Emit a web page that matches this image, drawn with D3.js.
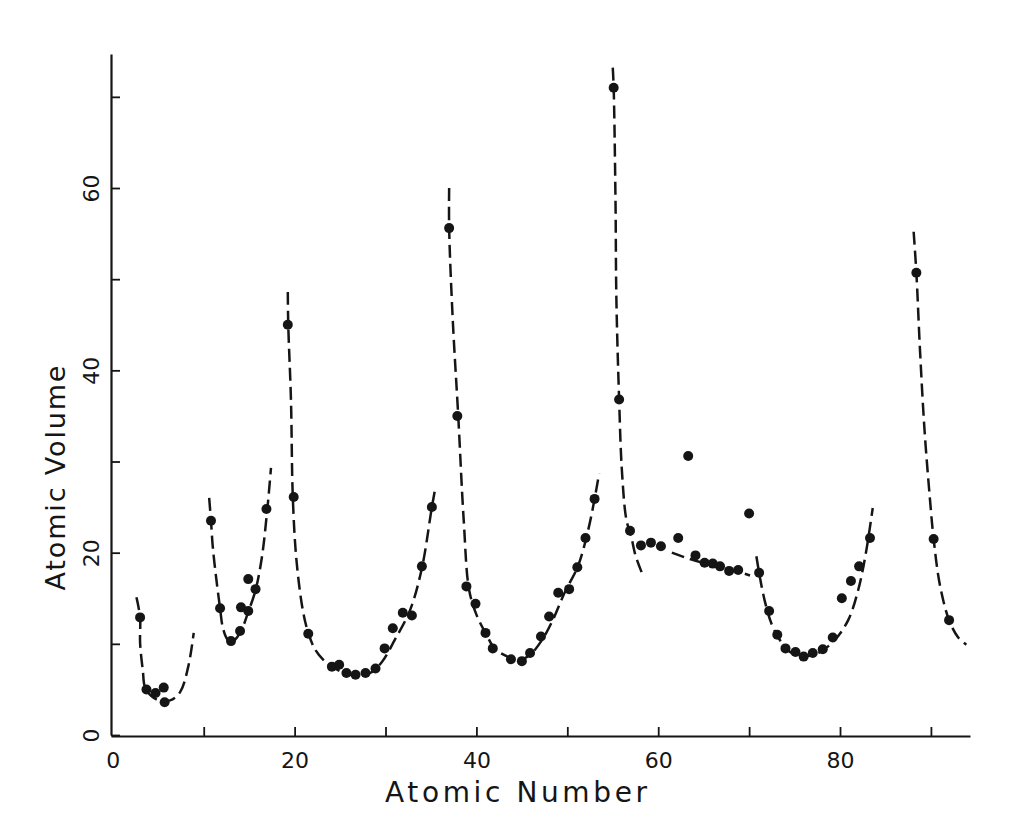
<!DOCTYPE html>
<html>
<head>
<meta charset="utf-8">
<script src="https://cdn.jsdelivr.net/npm/d3@7"></script>
<style>
  html, body { margin: 0; padding: 0; background: #fff; }
  svg { display: block; }
  text { font-family: "DejaVu Sans", sans-serif; fill: #151515; }
</style>
</head>
<body>
<svg id="chart" width="1024" height="830"></svg>
<script>
// ---- tick labels ----
const xTickValues = [0, 10, 20, 30, 40, 50, 60, 70, 80, 90];
const xTickLabels = [0, 20, 40, 60, 80];
const yTickValues = [0, 10, 20, 30, 40, 50, 60, 70];
const yTickLabels = [0, 20, 40, 60];
const xTitle = "Atomic Number";
const yTitle = "Atomic Volume";

// ---- plotted elements: atomic number (as placed), atomic volume ----
const atomicNumber = [
  3.0, 3.7, 4.7, 5.6, 5.7,
  10.8, 11.8, 13.0, 14.0, 14.1, 14.9, 14.9, 15.7, 16.9,
  19.25, 19.9, 21.5, 24.1, 24.9, 25.7, 26.7, 27.8, 28.9, 29.9, 30.8, 31.9, 32.9, 34.0, 35.1,
  37.0, 37.9, 38.9, 39.9, 41.0, 41.8, 43.8, 45.0, 45.9, 47.1, 48.0, 49.0, 50.2, 51.1, 52.0, 53.0,
  55.1, 55.7, 56.9, 58.1, 59.2, 60.3, 62.2, 63.3, 64.1, 65.1, 66.0, 66.8, 67.8, 68.8, 70.0, 71.1,
  72.2, 73.1, 74.0, 75.1, 76.0, 77.0, 78.1, 79.2, 80.2, 81.2, 82.1, 83.3,
  88.4, 90.3, 92.0
];
const atomicVolume = [
  12.9, 5.0, 4.6, 5.2, 3.6,
  23.5, 13.9, 10.3, 11.4, 14.0, 13.6, 17.1, 16.0, 24.8,
  45.0, 26.1, 11.1, 7.5, 7.7, 6.8, 6.6, 6.8, 7.3, 9.5, 11.7, 13.4, 13.1, 18.5, 25.0,
  55.6, 35.0, 16.3, 14.4, 11.2, 9.5, 8.3, 8.1, 9.0, 10.8, 13.0, 15.6, 16.0, 18.4, 21.6, 25.9,
  71.0, 36.8, 22.4, 20.8, 21.1, 20.7, 21.6, 30.6, 19.7, 18.9, 18.8, 18.5, 18.0, 18.1, 24.3, 17.8,
  13.6, 11.0, 9.5, 9.1, 8.6, 9.0, 9.4, 10.7, 15.0, 16.9, 18.5, 21.6,
  50.7, 21.5, 12.6
];

// ---- dashed guide curves (as traced): [Z, V] pairs ----
const curvePeriod2 = [[2.6,15.1],[3.0,12.9],[3.0,10.1],[3.3,7.1],[3.6,5.1],[4.8,3.9],[6.3,3.8],[7.4,4.7],[8.3,7.5],[8.9,11.2]];
const curvePeriod3 = [[10.6,26.0],[10.8,23.5],[11.0,20.6],[11.4,17.0],[11.8,13.9],[12.1,11.8],[12.6,10.5],[13.1,10.2],[14.0,11.2],[14.9,13.5],[15.7,15.9],[16.4,19.5],[17.0,24.8],[17.4,29.3]];
const curvePeriod4 = [[19.25,48.6],[19.3,45.0],[19.6,36.7],[19.8,26.1],[20.2,19.2],[20.9,13.7],[21.5,11.2],[22.3,9.3],[23.4,8.0],[24.1,7.5],[25.5,6.8],[26.8,6.5],[28.3,6.8],[29.6,8.0],[31.0,10.4],[32.7,13.7],[34.0,18.3],[35.1,25.0],[35.5,27.2]];
const curvePeriod5 = [[37.0,60.0],[37.0,55.6],[37.4,45.5],[38.0,35.0],[38.6,23.6],[39.2,15.9],[40.0,13.2],[41.1,11.0],[42.0,9.5],[43.2,8.7],[44.6,8.2],[45.9,8.8],[47.2,10.4],[48.4,12.6],[49.7,15.6],[51.2,18.6],[52.3,22.5],[53.0,25.9],[53.5,28.7]];
const curvePeriod6a = [[55.0,73.2],[55.1,71.0],[55.3,58.7],[55.4,47.7],[55.7,36.8],[56.0,29.1],[56.5,23.6],[57.0,21.9],[57.5,19.7],[58.2,17.8]];
const curveLanthanides = [[61.5,20.0],[63.5,19.3],[66.0,18.6],[68.5,18.0],[70.1,17.5]];
const curvePeriod6b = [[70.8,19.6],[71.1,17.8],[71.7,14.8],[72.5,12.1],[73.4,10.4],[74.5,9.1],[76.1,8.6],[77.8,9.1],[79.4,10.4],[80.9,12.6],[82.0,15.9],[82.8,19.7],[83.6,24.9]];
const curvePeriod7 = [[88.1,55.2],[88.4,50.7],[88.8,42.2],[89.3,33.4],[89.9,25.8],[90.3,21.5],[91.0,16.4],[92.0,12.6],[93.0,10.7],[93.9,9.9]];
const curves = [curvePeriod2, curvePeriod3, curvePeriod4, curvePeriod5, curvePeriod6a, curveLanthanides, curvePeriod6b, curvePeriod7];

// ---- drawing ----
const svg = d3.select("#chart");
const ink = "#151515";

const x = d3.scaleLinear().domain([-0.2, 94.3]).range([111, 970]);
const y = d3.scaleLinear().domain([0, 74.7]).range([735, 54]);

const xAxis = d3.axisBottom(x)
  .tickValues(xTickValues)
  .tickSizeInner(-9)
  .tickSizeOuter(0)
  .tickFormat(d => xTickLabels.includes(d) ? d : "");

const gx = svg.append("g").attr("transform", "translate(0,736)").call(xAxis);
gx.select(".domain").attr("stroke", ink).attr("stroke-width", 2.2);
gx.selectAll(".tick line").attr("stroke", ink).attr("stroke-width", 1.8)
  .filter(d => d === 0).remove();
gx.selectAll(".tick text")
  .attr("y", 24).attr("dy", "0.35em")
  .attr("font-size", 22)
  .attr("fill", ink)
  .style("font-family", '"DejaVu Sans", sans-serif');

const yAxis = d3.axisLeft(y)
  .tickValues(yTickValues)
  .tickSizeInner(-9)
  .tickSizeOuter(0)
  .tickFormat(d => yTickLabels.includes(d) ? d : "");

const gy = svg.append("g").attr("transform", "translate(111,0)").call(yAxis);
gy.select(".domain").attr("stroke", ink).attr("stroke-width", 2.2);
gy.selectAll(".tick line").attr("stroke", ink).attr("stroke-width", 1.8);
gy.selectAll(".tick text")
  .attr("x", null)
  .attr("transform", "translate(-20,0) rotate(-90)")
  .attr("text-anchor", "middle")
  .attr("dy", "0.35em")
  .attr("font-size", 22)
  .attr("fill", ink)
  .style("font-family", '"DejaVu Sans", sans-serif');

// axis titles
svg.append("text")
  .attr("x", 516).attr("y", 802)
  .attr("text-anchor", "middle")
  .attr("font-size", 28)
  .attr("textLength", 262)
  .attr("lengthAdjust", "spacing")
  .text(xTitle);

svg.append("text")
  .attr("transform", "translate(65,478) rotate(-90)")
  .attr("text-anchor", "middle")
  .attr("font-size", 27)
  .attr("textLength", 225)
  .attr("lengthAdjust", "spacing")
  .text(yTitle);

// dashed curves
const line = d3.line()
  .x(d => x(d[0]))
  .y(d => y(d[1]))
  .curve(d3.curveCatmullRom.alpha(0.5));

svg.append("g").selectAll("path")
  .data(curves)
  .join("path")
  .attr("d", line)
  .attr("fill", "none")
  .attr("stroke", ink)
  .attr("stroke-width", 2.5)
  .attr("stroke-dasharray", "13,6");

// dots
const pts = atomicNumber.map((z, i) => [z, atomicVolume[i]]);
svg.append("g").selectAll("circle")
  .data(pts)
  .join("circle")
  .attr("cx", d => x(d[0]))
  .attr("cy", d => y(d[1]))
  .attr("r", 5)
  .attr("fill", ink);
</script>
</body>
</html>
